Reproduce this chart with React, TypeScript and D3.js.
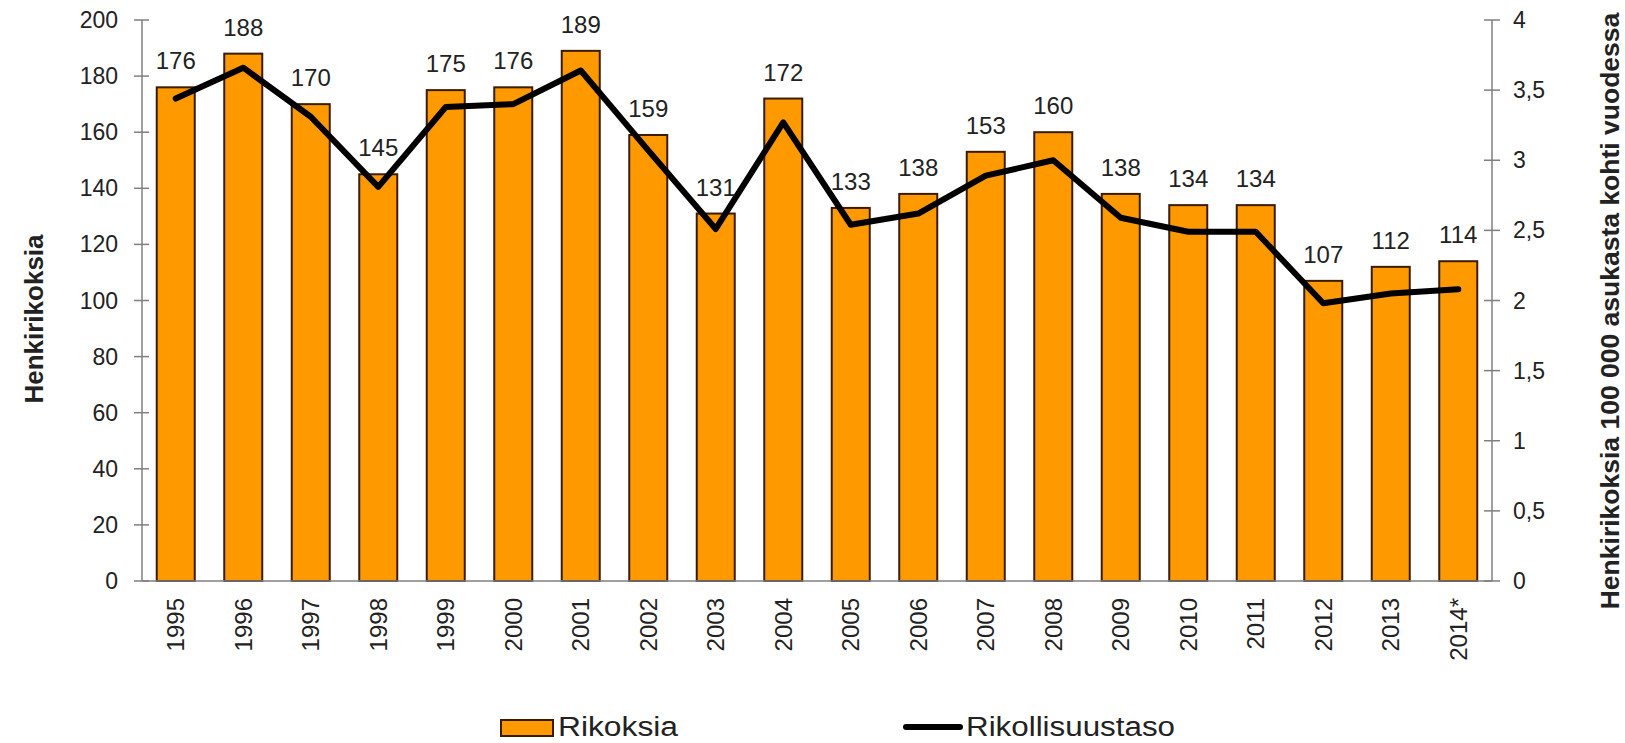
import React from "react";
import * as d3 from "d3";

const years = ["1995","1996","1997","1998","1999","2000","2001","2002","2003","2004","2005","2006","2007","2008","2009","2010","2011","2012","2013","2014*"];
const crimes = [176,188,170,145,175,176,189,159,131,172,133,138,153,160,138,134,134,107,112,114];
const rate = [3.44,3.66,3.31,2.81,3.38,3.40,3.64,3.07,2.51,3.27,2.54,2.62,2.89,3.00,2.59,2.49,2.49,1.98,2.05,2.08];
const leftTicks = [0,20,40,60,80,100,120,140,160,180,200];
const rightTicks = [0,0.5,1,1.5,2,2.5,3,3.5,4];

const W = 1625, H = 743;
const FONT = "'Liberation Sans', Arial, sans-serif";
const ORANGE = "#FF9900";
const BAR_STROKE = "#3a1c05";
const AXIS = "#7f7f7f";
const TXT = "#222";

export default function App() {
  const x = d3.scaleBand<string>().domain(years).range([142, 1492]).paddingInner(0.437).paddingOuter(0.2185);
  const yL = d3.scaleLinear().domain([0, 200]).range([581, 20]);
  const yR = d3.scaleLinear().domain([0, 4]).range([581, 20]);
  const cx = (d: string) => (x(d) as number) + x.bandwidth() / 2;
  const line = d3.line<number>().x((_, i) => cx(years[i])).y((v) => yR(v));
  const fmtR = (v: number) => String(v).replace(".", ",");

  return (
    <svg width={W} height={H} style={{ position: "absolute", left: 0, top: 0, background: "#fff" }} fontFamily={FONT}>
      {/* bars */}
      {crimes.map((v, i) => (
        <rect key={"b" + i} x={x(years[i])} y={yL(v)} width={x.bandwidth()} height={yL(0) - yL(v)}
          fill={ORANGE} stroke={BAR_STROKE} strokeWidth={2} />
      ))}
      {/* baseline & axes */}
      <line x1={142} x2={1492} y1={yL(0)} y2={yL(0)} stroke={AXIS} strokeWidth={1.5} />
      <line x1={142} x2={142} y1={yL(200)} y2={yL(0)} stroke={AXIS} strokeWidth={1.5} />
      <line x1={1492} x2={1492} y1={yR(4)} y2={yR(0)} stroke={AXIS} strokeWidth={1.5} />
      {leftTicks.map((t) => (
        <g key={"lt" + t}>
          <line x1={134} x2={149} y1={yL(t)} y2={yL(t)} stroke={AXIS} strokeWidth={1.5} />
          <text x={118} y={yL(t)} dy="0.35em" textAnchor="end" fontSize={23} fill={TXT}>{t}</text>
        </g>
      ))}
      {rightTicks.map((t) => (
        <g key={"rt" + t}>
          <line x1={1484} x2={1500} y1={yR(t)} y2={yR(t)} stroke={AXIS} strokeWidth={1.5} />
          <text x={1513} y={yR(t)} dy="0.35em" textAnchor="start" fontSize={23} fill={TXT}>{fmtR(t)}</text>
        </g>
      ))}
      {/* line */}
      <path d={line(rate) || ""} fill="none" stroke="#000" strokeWidth={6} strokeLinejoin="round" strokeLinecap="round" />
      {/* data labels */}
      {crimes.map((v, i) => (
        <text key={"dl" + i} x={cx(years[i])} y={yL(v) - 18} textAnchor="middle" fontSize={24} fill={TXT}>{v}</text>
      ))}
      {/* year labels */}
      {years.map((d) => (
        <text key={"yl" + d} transform={`translate(${cx(d)},598) rotate(-90)`} dy="0.35em" textAnchor="end" fontSize={24} fill={TXT}>{d}</text>
      ))}
      {/* axis titles */}
      <text transform="translate(43,319) rotate(-90)" textAnchor="middle" fontSize={26} fontWeight="bold" fill={TXT}>Henkirikoksia</text>
      <text transform="translate(1619,311) rotate(-90)" textAnchor="middle" fontSize={26.5} fontWeight="bold" fill={TXT}>Henkirikoksia 100 000 asukasta kohti vuodessa</text>
      {/* legend */}
      <rect x={501} y={720} width={52} height={16} fill={ORANGE} stroke={BAR_STROKE} strokeWidth={2} />
      <text x={558} y={736} fontSize={27} fill={TXT} textLength={120} lengthAdjust="spacingAndGlyphs">Rikoksia</text>
      <line x1={906} x2={960} y1={727} y2={727} stroke="#000" strokeWidth={6} strokeLinecap="round" />
      <text x={966} y={736} fontSize={27} fill={TXT} textLength={209} lengthAdjust="spacingAndGlyphs">Rikollisuustaso</text>
    </svg>
  );
}
